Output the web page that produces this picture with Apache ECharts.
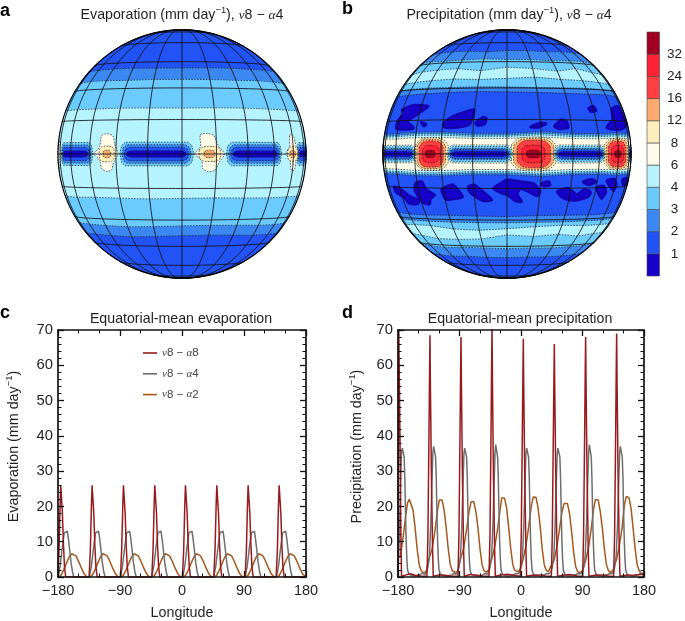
<!DOCTYPE html>
<html><head><meta charset="utf-8">
<style>html,body{margin:0;padding:0;background:#fff}#c{width:685px;height:621px}</style>
<script src="https://cdn.jsdelivr.net/npm/echarts@6/dist/echarts.min.js"></script>
</head><body><div id="c"></div>
<script>
// ---------- colour scale ----------
const levelLabels = ['', '1', '2', '3', '4', '6', '8', '12', '16', '24', '32', ''];
const levelColors = ['#1600cc', '#2253f7', '#3c88f2', '#6bcbfe', '#b5f4ff', '#fffdea', '#fdeebb', '#ffab70', '#ff4040', '#ff2235', '#a20022'];
const [L1, L2, L3, L4, L5, L6, L7, L8, L9, L10, L11] = levelColors;

// ---------- globe contours: latitude at each sample longitude ----------
const contourLons = [-90, -75, -60, -45, -30, -15, 0, 15, 30, 45, 60, 75, 90];
const evapNorth = [
  [41, 41, 41, 41.2, 41.3, 41, 41, 41.2, 41.3, 41, 41, 41, 41],
  [34, 34.2, 34.5, 34.5, 34.3, 34.5, 34.5, 34.5, 34.3, 34.5, 34.2, 34, 34],
  [20, 20, 20.2, 20.2, 20.4, 20.3, 20.2, 20.4, 20.4, 20.2, 20, 20, 20]];
const evapSouth = [
  [-39, -39, -38.8, -39.2, -39.5, -39, -38.5, -38.2, -38.5, -39, -39, -39, -39],
  [-33, -33, -33.2, -33.5, -33.8, -33.5, -33, -32.8, -33, -33.4, -33.5, -33.2, -33],
  [-19.5, -19.5, -19.7, -19.4, -19.6, -19.8, -19.5, -19.3, -19.5, -19.7, -19.5, -19.5, -19.5]];
const precNorth = [
  [52, 52, 52.5, 53, 53, 52, 53, 53, 52.5, 53, 53, 52.5, 52],
  [46, 46, 46.5, 46, 46.5, 47, 46.5, 46.5, 46, 46.5, 46.5, 46, 46],
  [39, 39, 40, 40.5, 41, 39.5, 41.5, 40.8, 39.5, 41.5, 39.5, 39, 39],
  [33.5, 33.5, 34, 34.5, 35, 34.5, 35, 35.8, 34.8, 34.5, 34, 33.5, 33.5],
  [30, 30, 30.3, 30.5, 30.5, 30.6, 30.5, 30.2, 30.3, 30.4, 30.2, 30, 30],
  [27, 27, 27.2, 27.6, 28, 28.2, 28, 27.8, 27.5, 27.4, 27.5, 27, 27],
  [9, 9, 9.1, 9.6, 9.6, 9, 8.9, 9.7, 9, 9, 9.5, 9.2, 9],
  [8.2, 8.2, 8.3, 8.9, 8.9, 8.2, 8.2, 9, 8.3, 8.2, 8.8, 8.4, 8.2],
  [7.6, 7.6, 7.7, 8.2, 8.2, 7.6, 7.6, 8.3, 7.6, 7.6, 8.1, 7.8, 7.6],
  [6.7, 6.7, 6.7, 7.2, 7.2, 6.7, 6.7, 7.3, 6.7, 6.7, 7.1, 6.8, 6.7]];
const precSouth = [
  [-52, -52, -52.5, -53, -52.5, -53, -53.2, -52.8, -53, -52.8, -52.5, -52, -52],
  [-45.5, -45.5, -46, -46.5, -46, -46.2, -46.5, -46.2, -46.5, -46, -46, -45.5, -45.5],
  [-38.5, -39, -39.5, -41, -41, -40.5, -38, -39, -38, -39.5, -38.5, -38.5, -38.5],
  [-33.5, -34, -33.5, -33.5, -35, -35.5, -34.5, -33.5, -33, -33.5, -33.5, -33.5, -33.5],
  [-30.8, -31, -31, -31.2, -31.3, -31.4, -31.4, -31.2, -31.2, -31, -31, -30.8, -30.8],
  [-27.5, -27.5, -27.8, -28, -27.8, -28, -28.2, -27.8, -27.8, -28, -27.8, -27.5, -27.5],
  [-9, -9, -9.2, -9.6, -9.6, -9, -9, -9.7, -9, -9, -9.5, -9.2, -9],
  [-8.2, -8.2, -8.4, -8.9, -8.9, -8.2, -8.2, -9, -8.3, -8.2, -8.8, -8.4, -8.2],
  [-7.6, -7.6, -7.7, -8.2, -8.2, -7.6, -7.6, -8.3, -7.6, -7.6, -8.1, -7.8, -7.6],
  [-6.7, -6.7, -6.7, -7.2, -7.2, -6.7, -6.7, -7.3, -6.7, -6.7, -7.1, -6.8, -6.7]];

// low-value strips on the equator: west and east longitude
const evapStrips = [[-72, -43], [-28, 5], [19.5, 50], [64, 90]];
const evapStripRings = [[5.1, 0], [4, 1], [2.9, 2], [1.4, 3]];
const precStrips = [[-80, -44.5], [-27, 2.5], [20.5, 49], [75, 90]];
const precStripRings = [[3.9, 0], [3.2, 0.5], [2.4, 1], [1.9, 1.5], [1.1, 2]];

// evaporation maxima: outline in lon/lat, then nested west/east/half-height rings
const evapHighs = [
  [[-38, 8.2], [-34.8, 8.8], [-32, 7.9], [-30.6, 3.9], [-29, 0], [-31.5, -4], [-32.5, -6.9], [-35.5, -7.6], [-38, -6.2], [-39, -2.6], [-42, 0], [-39, 3.2]],
  [[8, 8.2], [11, 8.8], [14, 7.9], [15.5, 3.9], [18.5, 0], [16, -4], [14.5, -6.9], [11.5, -7.6], [9, -6.2], [8.5, -2.6], [5.5, 0], [8, 3.2]],
  [[57.5, 8.2], [59.5, 8.8], [61.5, 7.9], [63, 3.9], [65.5, 0], [63, -4], [62, -6.9], [60, -7.6], [58, -6.2], [57, -2.6], [53.5, 0], [56.5, 3.2]],
  [[-84, 6], [-79, 6.5], [-75, 3], [-74, 0], [-75, -3], [-79, -6.5], [-84, -6], [-88, 0]]];
const evapHighRings = [
  [[-39, -31, 3.4, 6], [-36.8, -32.8, 1.6, 7]],
  [[7.5, 16.8, 3.2, 6], [9.7, 14.2, 1.6, 7]],
  [[55, 64.5, 3.2, 6], [57, 62, 1.6, 7]],
  []];
// precipitation maxima: west, east, half-height, colour index
const precHighs = [
  [[-90, -80, 6.5, 6], [-90, -81.5, 5.8, 7], [-90, -83, 5, 8], [-90, -85, 3.5, 9], [-90, -86, 1.5, 10]],
  [[-44.5, -26.5, 7, 6], [-43.5, -27.8, 6.4, 7], [-42, -29, 5.7, 8], [-40, -31, 3.8, 9], [-38.5, -33, 1.6, 10]],
  [[2, 21.5, 7.2, 6], [3, 20.5, 6.6, 7], [4.5, 19, 5.9, 8], [6.5, 16.5, 3.8, 9], [8.5, 14.5, 1.7, 10]],
  [[48.5, 75.5, 7, 6], [50, 72.5, 6.4, 7], [51.5, 69, 5.7, 8], [54, 66, 3.8, 9], [56.5, 63, 1.6, 10]]];
// precipitation minima at mid latitudes: lon/lat outlines
const precLows = [
  [[-60.5, 20], [-51.5, 22], [-40.5, 21.5], [-44.5, 19], [-48, 17], [-53, 14.5], [-47, 11.5], [-52, 11], [-61.5, 11.5], [-61.5, 15], [-57, 18.5]],
  [[-29.4, 13.5], [-25, 16.5], [-18.6, 18.7], [-15.4, 19.5], [-15.5, 17], [-17, 12.8], [-23.5, 11.5], [-29, 11.7]],
  [[-14, 13.5], [-10.8, 16], [-9.3, 15.4], [-10, 13], [-13, 12.4]],
  [[10.5, 11.7], [15, 13.5], [17.5, 13.2], [13.6, 11.6]],
  [[21.5, 12], [25, 15], [27.5, 14.3], [28.2, 11.7], [24, 11]],
  [[42, 20.5], [45.5, 21.5], [46.5, 19.5], [43, 19]],
  [[52, 11.8], [58.5, 15.5], [61, 20.5], [70, 22], [74.6, 16.5], [76, 13], [64, 11]],
  [[-42.5, 14], [-39.4, 13], [-40.4, 12.3]],
  [[-66.5, -15], [-60, -15.7], [-53, -19], [-46.5, -21], [-48, -22.5], [-55, -22.5], [-58, -19.7], [-65, -17.5]],
  [[-46, -13], [-42, -12.2], [-40, -15.7], [-35.5, -18.3], [-38.5, -19.8], [-40, -22.5], [-44, -21.7], [-47.5, -16.5]],
  [[-31, -15.7], [-28, -14.3], [-24.7, -13.5], [-20.8, -19], [-25.5, -19.8], [-29.5, -20.2]],
  [[-17.5, -14.3], [-14.7, -13.5], [-11, -16.5], [-7, -20.2], [-11, -20.6], [-14.7, -18.6], [-17, -16.5]],
  [[-6, -15], [-3.2, -13], [0, -11.2], [6, -12], [12, -13], [15, -16.5], [13.7, -18.3], [10, -16.5], [6, -15], [4.5, -17.5], [6.8, -21], [3.7, -20.6], [0.6, -18], [-2.5, -17]],
  [[15.4, -13], [18.6, -12], [19.4, -13.5], [16.8, -14]],
  [[23.5, -16.5], [28.5, -15], [32, -17], [34, -18.3], [38, -15.7], [42, -17], [41, -19], [35, -20.5], [31, -20.5], [26, -19]],
  [[36.5, -12.2], [41, -11.2], [44, -12.2], [40, -13.6]],
  [[45.5, -15], [50, -14.3], [53, -17], [51, -20], [48, -18]],
  [[52, -12], [58, -11.2], [61, -13.5], [60, -16.5], [56.5, -15]],
  [[68, -11.7], [76, -11.2], [78, -14], [71, -14]]];

const gridLats = [-75, -60, -45, -30, -15, 0, 15, 30, 45, 60, 75];
const gridLons = [-75, -60, -45, -30, -15, 0, 15, 30, 45, 60, 75];

// ---------- equatorial-mean curves: [longitude, mm/day] ----------
const evapA8 = [[-180,0],[-178.5,8],[-177,20],[-176,26],[-175,26],[-173.6,18],[-172,9],[-170.6,3],[-168.8,0],
 [-134.8,0],[-133,8],[-131.5,20],[-130.5,26],[-129.5,26],[-128,18],[-126.5,9],[-125,3],[-123.2,0],
 [-89.3,0],[-87.5,8],[-86,20],[-85,26],[-84,26],[-82.5,18],[-81,9],[-79.5,3],[-77.7,0],
 [-43.8,0],[-42,8],[-40.5,20],[-39.5,26],[-38.5,26],[-37,18],[-35.5,9],[-34,3],[-32.2,0],
 [0.7,0],[2.5,8],[4,20],[5,26],[6,26],[7.5,18],[9,9],[10.5,3],[12.3,0],
 [46.2,0],[48,8],[49.5,20],[50.5,26],[51.5,26],[53,18],[54.5,9],[56,3],[57.8,0],
 [91.7,0],[93.5,8],[95,20],[96,26],[97,26],[98.5,18],[100,9],[101.5,3],[103.3,0],
 [136.7,0],[138.5,8],[140,20],[141,26],[142,26],[143.5,18],[145,9],[146.5,3],[148.3,0],[180,0]];
const evapA4 = [[-180,0],[-177,3],[-174,8],[-171,12.5],[-170,13],[-166.5,13],[-165,11],[-163,7.5],[-161,4],[-159,1.5],[-157,0],
 [-134.6,0],[-131.6,3],[-128.6,8],[-125.6,12.5],[-124.6,13],[-121.1,13],[-119.6,11],[-117.6,7.5],[-115.6,4],[-113.6,1.5],[-111.6,0],
 [-89.4,0],[-86.4,3],[-83.4,8],[-80.4,12.5],[-79.4,13],[-75.9,13],[-74.4,11],[-72.4,7.5],[-70.4,4],[-68.4,1.5],[-66.4,0],
 [-44,0],[-41,3],[-38,8],[-35,12.5],[-34,13],[-30.5,13],[-29,11],[-27,7.5],[-25,4],[-23,1.5],[-21,0],
 [1,0],[4,3],[7,8],[10,12.5],[11,13],[14.5,13],[16,11],[18,7.5],[20,4],[22,1.5],[24,0],
 [46,0],[49,3],[52,8],[55,12.5],[56,13],[59.5,13],[61,11],[63,7.5],[65,4],[67,1.5],[69,0],
 [91.6,0],[94.6,3],[97.6,8],[100.6,12.5],[101.6,13],[105.1,13],[106.6,11],[108.6,7.5],[110.6,4],[112.6,1.5],[114.6,0],
 [137,0],[140,3],[143,8],[146,12.5],[147,13],[150.5,13],[152,11],[154,7.5],[156,4],[158,1.5],[160,0],[180,0]];
const evapA2 = [[-180,0],[-176,0.4],[-172,1.9],[-168,3.8],[-164,5.6],[-160,6.6],[-158,6.7],[-154,6],[-150,4.4],[-146,2.5],[-142,0.9],[-138,0],
 [-134.6,0],[-130.6,0.4],[-126.6,1.9],[-122.6,3.8],[-118.6,5.6],[-114.6,6.6],[-112.6,6.7],[-108.6,6],[-104.6,4.4],[-100.6,2.5],[-96.6,0.9],[-92.6,0],
 [-89.4,0],[-85.4,0.4],[-81.4,1.9],[-77.4,3.8],[-73.4,5.6],[-69.4,6.6],[-67.4,6.7],[-63.4,6],[-59.4,4.4],[-55.4,2.5],[-51.4,0.9],[-47.4,0],
 [-44,0],[-40,0.4],[-36,1.9],[-32,3.8],[-28,5.6],[-24,6.6],[-22,6.7],[-18,6],[-14,4.4],[-10,2.5],[-6,0.9],[-2,0],
 [1,0],[5,0.4],[9,1.9],[13,3.8],[17,5.6],[21,6.6],[23,6.7],[27,6],[31,4.4],[35,2.5],[39,0.9],[43,0],
 [46,0],[50,0.4],[54,1.9],[58,3.8],[62,5.6],[66,6.6],[68,6.7],[72,6],[76,4.4],[80,2.5],[84,0.9],[88,0],
 [91.6,0],[95.6,0.4],[99.6,1.9],[103.6,3.8],[107.6,5.6],[111.6,6.6],[113.6,6.7],[117.6,6],[121.6,4.4],[125.6,2.5],[129.6,0.9],[133.6,0],
 [137,0],[141,0.4],[145,1.9],[149,3.8],[153,5.6],[157,6.6],[159,6.7],[163,6],[167,4.4],[171,2.5],[175,0.9],[180,0]];
const precA8 = [[-180,0],[-179.4,40],[-179,72],[-178.4,62],[-177,38],[-175.8,12],[-174.8,0.2],[-168,0.6],[-162,0.9],[-155,0.5],[-146,0.3],
 [-137.6,0.2],[-136.2,12],[-134.8,38],[-133.8,58],[-133.2,68.5],[-132.6,55],[-131.2,30],[-129.4,8],[-128.4,0.2],[-120,0.6],[-112,0.5],[-103,0.3],
 [-92.2,0.2],[-90.8,12],[-89.4,38],[-88.4,58],[-87.8,68],[-87.2,55],[-85.8,30],[-84,8],[-83,0.2],[-75,0.7],[-67,0.6],[-56,0.3],
 [-46.8,0.2],[-45.4,12],[-44,38],[-43,60],[-42.4,71],[-41.8,56],[-40.4,30],[-38.6,8],[-37.6,0.2],[-29,0.6],[-20,0.8],[-10,0.4],
 [-1,0.2],[0.4,12],[1.8,38],[2.8,57],[3.4,67.5],[4,54],[5.4,30],[7.2,8],[8.2,0.2],[17,0.5],[26,0.6],[36,0.3],
 [44.4,0.2],[45.8,12],[47.2,38],[48.2,56],[48.8,66],[49.4,53],[50.8,30],[52.6,8],[53.6,0.2],[62,0.5],[72,0.7],[82,0.3],
 [90.2,0.2],[91.6,12],[93,38],[94,58],[94.6,68],[95.2,55],[96.6,30],[98.4,8],[99.4,0.2],[108,0.5],[118,0.6],[128,0.3],
 [135.6,0.2],[137,12],[138.4,38],[139.4,59],[140,69],[140.6,55],[142,30],[143.8,8],[144.8,0.2],[154,0.5],[166,0.6],[180,0.8]];
const precA4 = [[-180,0.5],[-179,6],[-177.5,15],[-176,28],[-175,35],[-173.7,36.5],[-172.7,36],[-171,34],[-170,28],[-169,18],[-168,10],[-167,5],[-166,2],[-164,0.8],[-160,0.4],[-154,0.3],[-147,0.8],[-144,1.1],[-141,0.7],
 [-138,1.5],[-136,3],[-134,6],[-132,15],[-130,29],[-129,35],[-127.8,37],[-126.8,36.5],[-125,34],[-124,28],[-123,18],[-122,10],[-121,5],[-120,2],[-118,0.8],[-114,0.4],[-108,0.3],[-101,0.6],[-98,1],[-95,0.8],
 [-92.5,1.5],[-90.5,3],[-88.5,6],[-86.5,15],[-84.5,29],[-83.5,35],[-82.4,36.5],[-81.4,36],[-79.6,34],[-78.6,28],[-77.6,18],[-76.6,10],[-75.6,5],[-74.6,2],[-72.6,0.8],[-68.6,0.4],[-62.6,0.3],[-55.6,0.6],[-52.6,1],[-49.6,0.8],
 [-47,1.5],[-45,3],[-43,6],[-41,15],[-39,29],[-38,35],[-37,37.5],[-36,37],[-34.2,34],[-33.2,28],[-32.2,18],[-31.2,10],[-30.2,5],[-29.2,2],[-27.2,0.8],[-23.2,0.4],[-17.2,0.3],[-10.2,0.7],[-7.2,1],[-4.2,0.9],
 [-1.8,1.5],[0.2,3],[2.2,6],[4.2,15],[6.2,29],[7.2,35],[8.3,36.5],[9.3,36],[11.1,34],[12.1,28],[13.1,18],[14.1,10],[15.1,5],[16.1,2],[18.1,0.8],[22.1,0.4],[28.1,0.3],[35.1,0.7],[38.1,1],[41.1,0.9],
 [44,1.5],[46,3],[48,6],[50,15],[52,29],[53,35],[54.1,36.5],[55.1,36],[56.9,34],[57.9,28],[58.9,18],[59.9,10],[60.9,5],[61.9,2],[63.9,0.8],[67.9,0.4],[73.9,0.3],[80.9,0.7],[83.9,1],[86.9,0.9],
 [89.9,1.5],[91.9,3],[93.9,6],[95.9,15],[97.9,29],[98.9,35],[100,37.5],[101,37],[102.8,34],[103.8,28],[104.8,18],[105.8,10],[106.8,5],[107.8,2],[109.8,0.8],[113.8,0.4],[119.8,0.3],[126.8,0.7],[129.8,1],[132.8,0.9],
 [135.3,1.5],[137.3,3],[139.3,6],[141.3,15],[143.3,29],[144.3,35],[145.4,37],[146.4,36.5],[148.2,34],[149.2,28],[150.2,18],[151.2,10],[152.2,5],[153.2,2],[155.2,0.8],[159.2,0.4],[165.2,0.3],[172.2,0.7],[176,1],[180,1.2]];
const precA2 = [[-180,5.5],[-177,5.7],[-175,8],[-172,12],[-169,17],[-166,21],[-163.4,22],[-161,21.5],[-158,19],[-155,14],[-152,8],[-149,3.5],[-146,1.8],[-143,1.2],
 [-139,1.5],[-137,3],[-134,5.5],[-130,8],[-126,13],[-122,19],[-119.5,21.8],[-117.5,22.3],[-115.5,21.8],[-112.5,19],[-109.5,14],[-106.5,8],[-103.5,3.5],[-100.5,1.8],[-97,1.3],
 [-93,1.6],[-91,3],[-88,5.5],[-84,8],[-80,13],[-76,18.5],[-73,21.3],[-71.2,21.8],[-69,21.3],[-66,18.5],[-63,14],[-60,8],[-57,3.5],[-54,1.8],[-51,1.4],
 [-47,2],[-45,4],[-42,5.5],[-38,9],[-34,14],[-30,20],[-28,22.5],[-26.3,23],[-24,22.3],[-21,19.5],[-18,14],[-15,8],[-12,3.5],[-9,1.9],[-5,1.5],
 [-2,2],[0.5,3],[3,5],[7,8.5],[11,14],[15,20],[18,22.7],[20,23.2],[22,22.6],[25,19.5],[28,14.5],[31,8],[34,3.5],[37,1.9],[40,1.5],
 [43,2.8],[45,2.5],[48,4.5],[52,8],[56,13],[60,18.5],[63,20.8],[65.9,21.3],[68,20.8],[71,18],[74,13],[77,7],[80,3],[83,1.5],[86,1.2],
 [90,1.8],[92,3],[95,5],[99,8.5],[103,14],[106,19],[109,22],[110.7,22.4],[113,21.8],[116,18.5],[119,14],[122,8],[125,3.5],[128,1.8],[131,1.3],
 [135,2],[137,3.5],[140,5],[144,9],[148,14],[151,20],[154,22.8],[155.6,23.2],[158,22.5],[161,19.5],[164,14],[167,8],[170,3.5],[173,1.8],[176,0.8],[180,0.4]];

const axisTicksX = [-180, -90, 0, 90, 180];
const nameA8 = 'ν8 − α8', nameA4 = 'ν8 − α4', nameA2 = 'ν8 − α2';

// ---------- globe geometry ----------
const VIEW = 14; // viewer distance of the perspective view, in globe radii
function project(lon, lat) {
  const la = lat * Math.PI / 180, lo = lon * Math.PI / 180;
  const cosC = Math.cos(la) * Math.cos(lo);
  const k = VIEW / (VIEW - cosC);
  return [Math.cos(la) * Math.sin(lo) * k, Math.sin(la) * k];
}
function latAt(lats, lon) {
  if (typeof lats === 'number') return lats;
  const i = Math.min(contourLons.length - 2, Math.floor((lon + 90) / 15));
  const t = (lon - contourLons[i]) / 15;
  return lats[i] + (lats[i + 1] - lats[i]) * t;
}
function curve(lats) {
  const p = [];
  for (let lon = -90; lon <= 90; lon += 3) p.push([lon, latAt(lats, lon)]);
  return p;
}
function limbSide(lon, a, b) {
  const p = [], n = Math.max(1, Math.ceil(Math.abs(b - a) / 3));
  for (let i = 1; i < n; i++) p.push([lon, a + (b - a) * i / n]);
  return p;
}
function bandPoly(upper, lower) {
  const lo = curve(lower), up = curve(upper).reverse();
  return lo.concat(limbSide(90, lo[lo.length - 1][1], up[0][1]), up,
    limbSide(-90, up[up.length - 1][1], lo[0][1]));
}
function ringPoly(w, e, h) {
  const d = e - w;
  return [[w, 0.55 * h], [w + 0.15 * d, 0.92 * h], [w + 0.35 * d, h], [e - 0.35 * d, h], [e - 0.15 * d, 0.92 * h], [e, 0.55 * h],
    [e, -0.55 * h], [e - 0.15 * d, -0.92 * h], [e - 0.35 * d, -h], [w + 0.35 * d, -h], [w + 0.15 * d, -0.92 * h], [w, -0.55 * h]];
}
function stripPoly(w, e, h, inset) {
  const a = w + inset, b = Math.min(90, e - inset), c = Math.min(2.5, (b - a) / 3), p = [];
  p.push([a, 0], [a + c * 0.3, h * 0.7], [a + c, h]);
  for (let x = a + c + 5; x < b - c; x += 5) p.push([x, h]);
  p.push([b - c, h], [b - c * 0.3, h * 0.7], [b, 0], [b - c * 0.3, -h * 0.7], [b - c, -h]);
  for (let x = b - c - 5; x > a + c; x -= 5) p.push([x, -h]);
  p.push([a + c, -h], [a + c * 0.3, -h * 0.7]);
  return p;
}
const DASH = { stroke: '#111', lineWidth: 0.65, lineDash: [1.6, 1.3] };
function fillItem(points, color, dashed, smooth, grow) {
  return { kind: 'polygon', points, fill: color, dashed, smooth: smooth || 0, grow: grow || 0 };
}
function lineItem(points, style) { return { kind: 'polyline', points, style }; }
function gridItems() {
  const out = [];
  gridLats.forEach(lat => out.push(lineItem(curve(lat), { stroke: '#111', lineWidth: 0.85 })));
  gridLons.forEach(lon => {
    const p = [];
    for (let lat = -90; lat <= 90; lat += 3) p.push([lon, lat]);
    out.push(lineItem(p, { stroke: '#111', lineWidth: 0.85 }));
  });
  const limb = [];
  for (let lat = -90; lat <= 90; lat += 3) limb.push([-90, lat]);
  for (let lat = 87; lat >= -90; lat -= 3) limb.push([90, lat]);
  out.push(lineItem(limb, { stroke: '#000', lineWidth: 1.1 }));
  return out;
}
function evapItems() {
  const it = [fillItem(bandPoly(90, -90), L2)];
  [L3, L4, L5].forEach((c, i) => it.push(fillItem(bandPoly(evapNorth[i], evapSouth[i]), c)));
  evapNorth.concat(evapSouth).forEach(a => it.push(lineItem(curve(a), DASH)));
  evapStrips.forEach(s => evapStripRings.forEach((r, i) =>
    it.push(fillItem(stripPoly(s[0], s[1], r[0], r[1]), [L4, L3, L2, L1][i], true))));
  evapHighs.forEach((h, i) => {
    it.push(fillItem(h, L6, true, 0.3));
    evapHighRings[i].forEach(r => it.push(fillItem(ringPoly(r[0], r[1], r[2]), levelColors[r[3]], true, 0.2)));
  });
  return it.concat(gridItems());
}
function precItems() {
  const it = [fillItem(bandPoly(90, -90), L2)];
  const order = [L3, L4, L5, L4, L3, L2, L3, L4, L5, L6];
  order.forEach((c, i) => it.push(fillItem(bandPoly(precNorth[i], precSouth[i]), c)));
  precNorth.concat(precSouth).forEach(a => it.push(lineItem(curve(a), DASH)));
  precLows.forEach(p => {
    it.push(fillItem(p, L1, false, 0.2, 3));
    it.push(fillItem(p, L1, true, 0.2));
  });
  precHighs.forEach(b => b.forEach(r => it.push(fillItem(ringPoly(r[0], r[1], r[2]), levelColors[r[3]], true, 0.15))));
  precStrips.forEach(s => precStripRings.forEach((r, i) =>
    it.push(fillItem(stripPoly(s[0], s[1], r[0], r[1]), [L5, L4, L3, L2, L1][i], true))));
  return it.concat(gridItems());
}
function globeSeries(items, idx) {
  return {
    type: 'custom', coordinateSystem: 'cartesian2d', xAxisIndex: idx, yAxisIndex: idx, silent: true, clip: false,
    data: items.map(() => [0, 0]), z: 2,
    renderItem(params, api) {
      const it = items[params.dataIndex];
      const pts = it.points.map(q => api.coord(project(q[0], q[1])));
      if (it.kind === 'polygon') {
        const style = { fill: it.fill };
        if (it.dashed) Object.assign(style, DASH);
        else { style.stroke = it.fill; style.lineWidth = it.grow || 0.3; style.lineJoin = 'round'; }
        return { type: 'polygon', shape: { points: pts, smooth: it.smooth }, style };
      }
      return { type: 'polyline', shape: { points: pts }, style: Object.assign({ fill: null }, it.style) };
    }
  };
}

// ---------- text ----------
const INK = '#231f20';
const FONT = '"Liberation Sans", Arial, sans-serif';
const titleRich = (size) => ({
  sup: { fontSize: size * 0.66, fontFamily: FONT, color: INK, verticalAlign: 'top', lineHeight: size + 4 },
  g: { fontSize: size - 1, fontStyle: 'italic', fontFamily: '"Liberation Serif", serif', color: INK, lineHeight: size + 4 },
  t: { fontSize: size, fontFamily: FONT, color: INK, lineHeight: size + 4 }
});
function heading(text, left, top) {
  return { text, left, top, textAlign: 'center', padding: 0, textStyle: { fontSize: 14.2, fontWeight: 'normal', fontFamily: FONT, color: INK, rich: titleRich(14.2) } };
}
function letter(text, left, top) {
  return { text, left, top, padding: 0, textStyle: { fontSize: 18, fontWeight: 'bold', fontFamily: FONT, color: '#000' } };
}
const legendLabel = n => '{g|ν}{t|8 − }{g|α}{t|' + n.slice(-1) + '}';

// ---------- axes ----------
const axLine = { show: true, onZero: false, lineStyle: { color: '#111', width: 1.7 } };
const tick = { show: true, inside: true, length: 6, lineStyle: { color: '#111', width: 1.3 } };
const minor = n => ({ show: true, splitNumber: n, length: 3.5, lineStyle: { color: '#111', width: 1 } });
function lonAxes(g) {
  const base = { type: 'value', gridIndex: g, min: -180, max: 180, interval: 90, splitLine: { show: false }, axisLine: axLine, axisTick: tick, minorTick: minor(3), z: 6 };
  return [
    Object.assign({}, base, { position: 'bottom', name: 'Longitude', nameLocation: 'middle', nameGap: 29,
      nameTextStyle: { fontSize: 14.3, fontFamily: FONT, color: INK },
      axisLabel: { fontSize: 14.5, fontFamily: FONT, color: INK, margin: 6,
        formatter: v => axisTicksX.includes(v) ? String(v).replace('-', '−') : '' } }),
    Object.assign({}, base, { position: 'top', axisLabel: { show: false } })
  ];
}
function valAxes(g, name, gap) {
  const base = { type: 'value', gridIndex: g, min: 0, max: 70, interval: 10, splitLine: { show: false }, axisLine: axLine, axisTick: tick, minorTick: minor(5), z: 6 };
  return [
    Object.assign({}, base, { position: 'left', name, nameLocation: 'middle', nameGap: gap, nameRotate: 90,
      nameTextStyle: { fontSize: 14.3, fontFamily: FONT, color: INK, padding: [0, 0, 0, 14], rich: titleRich(14.3) },
      axisLabel: { fontSize: 14.8, fontFamily: FONT, color: INK, margin: 5 } }),
    Object.assign({}, base, { position: 'right', axisLabel: { show: false } })
  ];
}
const hiddenAxis = (g) => ({ type: 'value', gridIndex: g, min: -1, max: 1, show: false });
function curveSeries(name, data, color, ax, z) {
  return { type: 'line', name, data, xAxisIndex: ax, yAxisIndex: ax, showSymbol: false, symbol: 'none', z,
    lineStyle: { color, width: 1.5 }, itemStyle: { color }, silent: true };
}
const RED = '#971b1e', GREY = '#6e6e6e', BROWN = '#a5591f';

const option = {
  animation: false,
  backgroundColor: '#fff',
  title: [
    letter('a', 0, 2), letter('b', 342, 0), letter('c', 0, 304), letter('d', 342, 304),
    heading('{t|Evaporation (mm day}{sup|−1}{t|), }{g|ν}{t|8 − }{g|α}{t|4}', 182, 6),
    heading('{t|Precipitation (mm day}{sup|−1}{t|), }{g|ν}{t|8 − }{g|α}{t|4}', 509, 6),
    heading('{t|Equatorial-mean evaporation}', 181, 310),
    heading('{t|Equatorial-mean precipitation}', 520, 310)
  ],
  grid: [
    { left: 58, top: 30, width: 248, height: 248 },
    { left: 383, top: 30, width: 248, height: 248 },
    { left: 58, top: 330, width: 248, height: 248 },
    { left: 398, top: 330, width: 246, height: 248 },
    { left: 647, top: 32, width: 15, height: 244 }
  ],
  xAxis: [hiddenAxis(0), hiddenAxis(1), ...lonAxes(2), ...lonAxes(3),
    { type: 'value', gridIndex: 4, min: 0, max: 1, show: false }],
  yAxis: [hiddenAxis(0), hiddenAxis(1),
    ...valAxes(2, '{t|Evaporation (mm day}{sup|−1}{t|)}', 35),
    ...valAxes(3, '{t|Precipitation (mm day}{sup|−1}{t|)}', 32),
    { type: 'value', gridIndex: 4, min: 0, max: 11, interval: 1, position: 'right', splitLine: { show: false },
      axisLine: { show: false }, axisTick: { show: false },
      axisLabel: { fontSize: 13.5, fontFamily: FONT, color: INK, align: 'center', margin: 15, formatter: v => levelLabels[v] } }],
  legend: {
    left: 138, top: 342, orient: 'vertical', icon: 'rect', itemWidth: 14, itemHeight: 1.6, itemGap: 8.8,
    data: [nameA8, nameA4, nameA2], selectedMode: false,
    formatter: legendLabel,
    textStyle: { rich: {
      g: { fontSize: 11, fontStyle: 'italic', fontFamily: '"Liberation Serif", serif', color: '#444' },
      t: { fontSize: 11.5, fontFamily: FONT, color: '#444' } } }
  },
  series: [
    globeSeries(evapItems(), 0),
    globeSeries(precItems(), 1),
    curveSeries(nameA8, evapA8, RED, 2, 5), curveSeries(nameA4, evapA4, GREY, 2, 4), curveSeries(nameA2, evapA2, BROWN, 2, 3),
    curveSeries(nameA8, precA8, RED, 4, 5), curveSeries(nameA4, precA4, GREY, 4, 4), curveSeries(nameA2, precA2, BROWN, 4, 3),
    {
      type: 'custom', coordinateSystem: 'cartesian2d', xAxisIndex: 6, yAxisIndex: 6, silent: true,
      data: levelColors.map((c, i) => [0, i]),
      renderItem(params, api) {
        const i = params.dataIndex, a = api.coord([0, i]), b = api.coord([1, i + 1]);
        return { type: 'rect', shape: { x: a[0], y: b[1], width: b[0] - a[0], height: a[1] - b[1] },
          style: { fill: levelColors[i], stroke: '#444', lineWidth: 0.6 } };
      }
    }
  ]
};
echarts.init(document.getElementById('c'), null, { renderer: 'canvas' }).setOption(option);
</script>
</body></html>
